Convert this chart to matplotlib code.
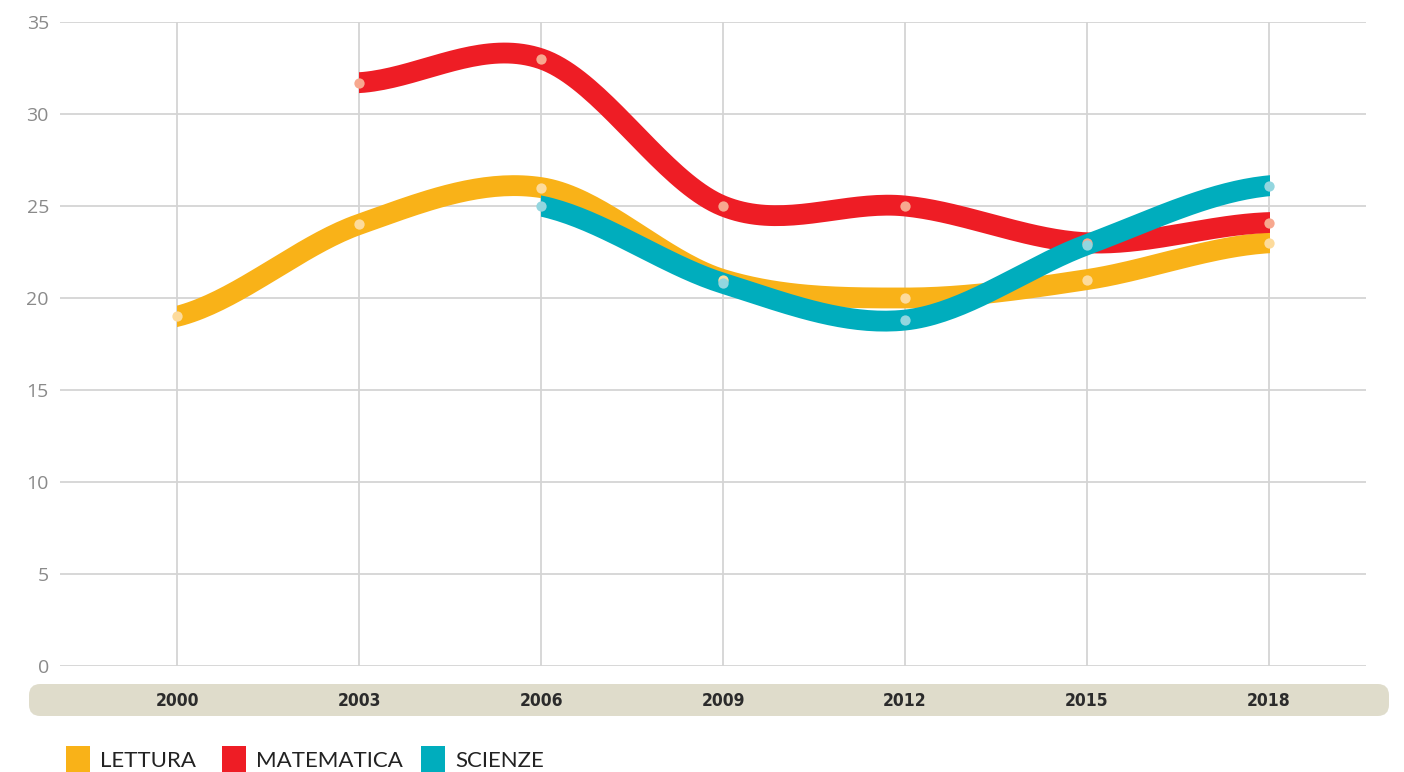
import matplotlib.pyplot as plt
import numpy as np
from matplotlib.patches import FancyBboxPatch, Rectangle

years = ['2000', '2003', '2006', '2009', '2012', '2015', '2018']
lettura = [19, 24, 26, 21, 20, 21, 23]
matematica = [None, 31.7, 33, 25, 25, 23, 24.1]
scienze = [None, None, 25, 20.8, 18.8, 22.9, 26.1]

series = [('LETTURA', lettura, '#f9b218', '#fddb9c'),
          ('MATEMATICA', matematica, '#ee1d25', '#f7a88f'),
          ('SCIENZE', scienze, '#00adbd', '#93d6df')]


def smooth(xs, ys, n=40, ext=0.08):
    # hermite curve through the points, flattened ends
    xs = np.asarray(xs, float)
    ys = np.asarray(ys, float)
    m = np.zeros_like(ys)
    for i in range(len(ys)):
        if i == 0:
            m[i] = 0.5 * (ys[1] - ys[0])
        elif i == len(ys) - 1:
            m[i] = 0.3 * (ys[-1] - ys[-2])
        else:
            m[i] = (ys[i + 1] - ys[i - 1]) / 2
    ox, oy = [xs[0] - ext], [ys[0] - ext * m[0]]
    for i in range(len(ys) - 1):
        t = np.linspace(0, 1, n)
        h00 = 2 * t**3 - 3 * t**2 + 1
        h10 = t**3 - 2 * t**2 + t
        h01 = -2 * t**3 + 3 * t**2
        h11 = t**3 - t**2
        ox.extend(xs[i] + t * (xs[i + 1] - xs[i]))
        oy.extend(h00 * ys[i] + h10 * m[i] + h01 * ys[i + 1] + h11 * m[i + 1])
    ox.append(xs[-1] + ext)
    oy.append(ys[-1] + ext * m[-1])
    return ox, oy


fig = plt.figure(figsize=(14.04, 7.72), dpi=100)
ax = fig.add_axes([60 / 1404, (772 - 666) / 772, (1366 - 60) / 1404, (666 - 22) / 772])

x = np.arange(len(years))
for name, vals, col, light in series:
    xs = [i for i, v in zip(x, vals) if v is not None]
    ys = [v for v in vals if v is not None]
    sx, sy = smooth(xs, ys)
    ln, = ax.plot(sx, sy, color=col, lw=15, solid_capstyle='butt', zorder=3)
    clip = Rectangle((xs[0], -50), xs[-1] - xs[0] + 0.004, 150, transform=ax.transData)
    ln.set_clip_path(clip)

for name, vals, col, light in series:
    xs = [i for i, v in zip(x, vals) if v is not None]
    ys = [v for v in vals if v is not None]
    ax.scatter(xs, ys, s=55, color=light, zorder=4, linewidths=0)

ax.set_xlim(-0.643, 6.533)
ax.set_ylim(0, 35)
ax.set_yticks(range(0, 36, 5))
ax.set_xticks(x)
ax.set_xticklabels([])
ax.grid(True, color='#d4d4d4', lw=1.3)
ax.set_axisbelow(True)
for s in ax.spines.values():
    s.set_visible(False)
ax.tick_params(axis='y', length=0, pad=8, labelsize=14, labelcolor='#8a8a8a')
ax.tick_params(axis='x', length=0)
for lab in ax.get_yticklabels():
    lab.set_family(['Open Sans', 'DejaVu Sans'])

# band with year labels
band = FancyBboxPatch((29 / 1404, (772 - 716) / 772), 1360 / 1404, 32 / 772,
                      boxstyle='round,pad=0,rounding_size=0.008',
                      transform=fig.transFigure, facecolor='#dfdccb',
                      edgecolor='none', mutation_aspect=1404 / 772)
fig.patches.append(band)
for i, yr in enumerate(years):
    px = ax.transData.transform((i, 0))[0] / 1404
    fig.text(px, (772 - 701) / 772, yr, ha='center', va='center', fontsize=12.5,
             fontweight='bold', fontstretch='condensed', color='#2b2b2b',
             family=['DejaVu Sans'])

# legend
leg = [(66, 100, 'LETTURA', '#f9b218'), (222, 256, 'MATEMATICA', '#ee1d25'),
       (421, 455, 'SCIENZE', '#00adbd')]
for sx, tx, lab, col in leg:
    fig.patches.append(Rectangle((sx / 1404, 0), 24 / 1404, 26 / 772,
                                 transform=fig.transFigure, facecolor=col, edgecolor='none'))
    fig.text(tx / 1404, 1 / 772, lab, ha='left', va='bottom', fontsize=16,
             color='#222222', family=['Lato', 'DejaVu Sans'])

fig.savefig('out.png', dpi=100)
